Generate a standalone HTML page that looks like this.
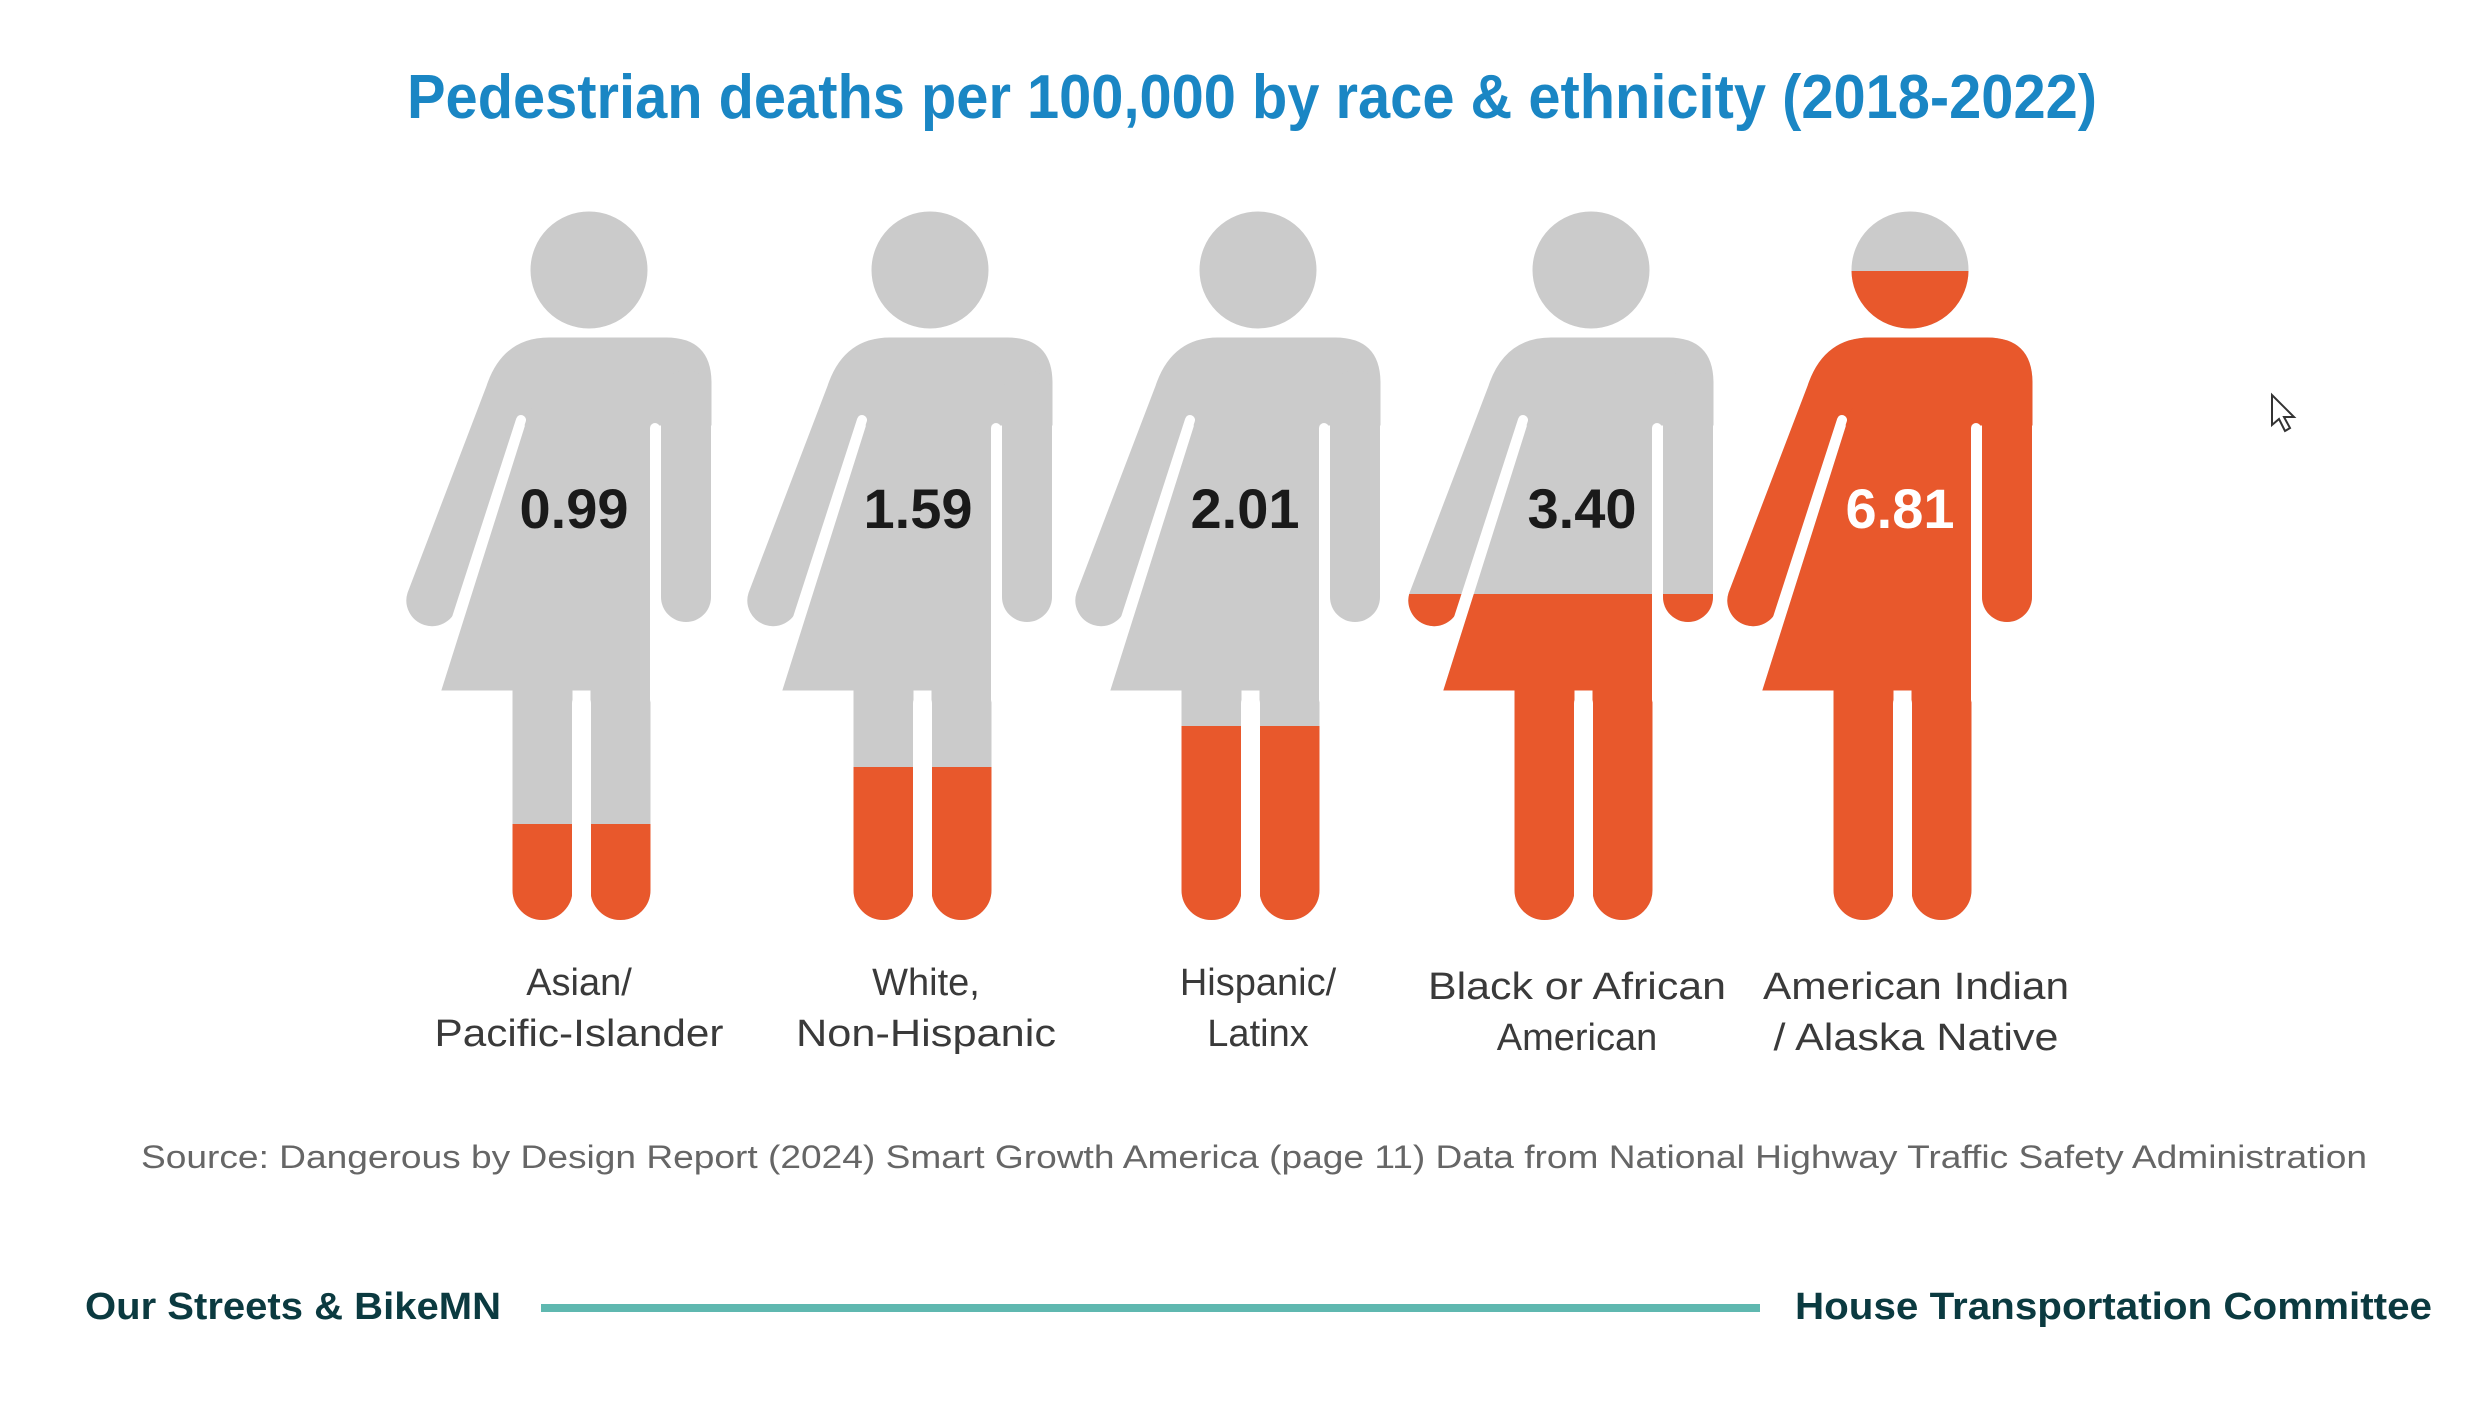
<!DOCTYPE html>
<html><head><meta charset="utf-8"><style>
html,body{margin:0;padding:0;background:#fff;}
svg{display:block;}
</style></head><body>
<svg width="2487" height="1401" viewBox="0 0 2487 1401" xmlns="http://www.w3.org/2000/svg">
<defs>
<g id="fig">
  <circle cx="0" cy="270" r="58"/>
  <path d="M -102 386 Q -86 338 -40 338 L 77 338 Q 122 338 122 383 L 122 425 L -70 425 L -133 608 A 25 25 0 0 1 -181 593 Z"/>
  <line x1="97" y1="395" x2="97" y2="597" stroke-width="50" stroke-linecap="round"/>
  <polygon points="-57,405 61,405 61,690 -147,690"/>
  <path d="M -76 680 L -76 890 A 29 29 0 0 0 -17 890 L -17 680 Z"/>
  <path d="M 2 680 L 2 890 A 29 29 0 0 0 61 890 L 61 680 Z"/>
</g>
<g id="gaps" stroke="#fff" fill="none" stroke-linecap="round">
  <line x1="-68" y1="420" x2="-134" y2="624" stroke-width="10"/>
  <line x1="66" y1="428" x2="66" y2="700" stroke-width="10"/>
  <line x1="-7.5" y1="703" x2="-7.5" y2="960" stroke-width="19"/>
</g>
<clipPath id="c1"><rect x="-500" y="824" width="1000" height="600"/></clipPath>
<clipPath id="c2"><rect x="-500" y="767" width="1000" height="600"/></clipPath>
<clipPath id="c3"><rect x="-500" y="726" width="1000" height="600"/></clipPath>
<clipPath id="c4"><rect x="-500" y="594" width="1000" height="800"/></clipPath>
<clipPath id="c5"><rect x="-500" y="271" width="1000" height="1200"/></clipPath>
</defs>
<rect width="2487" height="1401" fill="#fff"/>

<text x="1252" y="118" text-anchor="middle" font-family="Liberation Sans, sans-serif" font-weight="bold" font-size="62" fill="#1a86c4" textLength="1690" lengthAdjust="spacingAndGlyphs">Pedestrian deaths per 100,000 by race &amp; ethnicity (2018-2022)</text>

<g transform="translate(589,0)"><use href="#fig" fill="#cbcbcb" stroke="#cbcbcb"/><use href="#fig" fill="#e8582c" stroke="#e8582c" clip-path="url(#c1)"/><use href="#gaps"/></g>
<g transform="translate(930,0)"><use href="#fig" fill="#cbcbcb" stroke="#cbcbcb"/><use href="#fig" fill="#e8582c" stroke="#e8582c" clip-path="url(#c2)"/><use href="#gaps"/></g>
<g transform="translate(1258,0)"><use href="#fig" fill="#cbcbcb" stroke="#cbcbcb"/><use href="#fig" fill="#e8582c" stroke="#e8582c" clip-path="url(#c3)"/><use href="#gaps"/></g>
<g transform="translate(1591,0)"><use href="#fig" fill="#cbcbcb" stroke="#cbcbcb"/><use href="#fig" fill="#e8582c" stroke="#e8582c" clip-path="url(#c4)"/><use href="#gaps"/></g>
<g transform="translate(1910,0)"><use href="#fig" fill="#cbcbcb" stroke="#cbcbcb"/><use href="#fig" fill="#e8582c" stroke="#e8582c" clip-path="url(#c5)"/><use href="#gaps"/></g>

<g font-family="Liberation Sans, sans-serif" font-weight="bold" font-size="56" text-anchor="middle">
<text x="574" y="528" fill="#1a1a1a">0.99</text>
<text x="918" y="528" fill="#1a1a1a">1.59</text>
<text x="1245" y="528" fill="#1a1a1a">2.01</text>
<text x="1582" y="528" fill="#1a1a1a">3.40</text>
<text x="1900" y="528" fill="#ffffff">6.81</text>
</g>

<g font-family="Liberation Sans, sans-serif" font-size="38" text-anchor="middle" fill="#3a3a3a">
<text x="579" y="995">Asian/</text>
<text x="579" y="1046" textLength="289" lengthAdjust="spacingAndGlyphs">Pacific-Islander</text>
<text x="926" y="995">White,</text>
<text x="926" y="1046" textLength="260" lengthAdjust="spacingAndGlyphs">Non-Hispanic</text>
<text x="1258" y="995">Hispanic/</text>
<text x="1258" y="1046">Latinx</text>
<text x="1577" y="999" textLength="298" lengthAdjust="spacingAndGlyphs">Black or African</text>
<text x="1577" y="1050">American</text>
<text x="1916" y="999" textLength="306" lengthAdjust="spacingAndGlyphs">American Indian</text>
<text x="1916" y="1050" textLength="285" lengthAdjust="spacingAndGlyphs">/ Alaska Native</text>
</g>

<text x="141" y="1168" font-family="Liberation Sans, sans-serif" font-size="32" fill="#666" textLength="2226" lengthAdjust="spacingAndGlyphs">Source: Dangerous by Design Report (2024) Smart Growth America (page 11) Data from National Highway Traffic Safety Administration</text>

<text x="85" y="1319" font-family="Liberation Sans, sans-serif" font-weight="bold" font-size="38" fill="#0b3a40" textLength="416" lengthAdjust="spacingAndGlyphs">Our Streets &amp; BikeMN</text>
<rect x="541" y="1304" width="1219" height="8" fill="#5fb8b0"/>
<text x="1795" y="1319" font-family="Liberation Sans, sans-serif" font-weight="bold" font-size="38" fill="#0b3a40" textLength="637" lengthAdjust="spacingAndGlyphs">House Transportation Committee</text>

<polygon points="2272,395 2272,425 2279,419 2285,431 2290,428 2284,417 2294,417" fill="#fff" stroke="#333" stroke-width="2"/>
</svg>
</body></html>
